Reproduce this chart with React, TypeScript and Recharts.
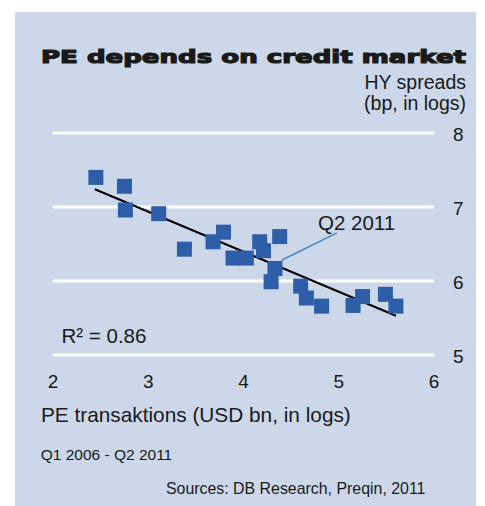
import { CartesianGrid, ReferenceLine, Scatter, ScatterChart, XAxis, YAxis } from "recharts";

// PE transactions (x) vs HY spreads (y), both in logs, Q1 2006 - Q2 2011
const peLog = [2.45, 2.75, 2.76, 3.11, 3.38, 3.68, 3.79, 3.89, 4.03, 4.17, 4.21, 4.38, 4.33, 4.29, 4.6, 4.66, 4.82, 5.15, 5.25, 5.49, 5.6];
const hyLog = [7.4, 7.28, 6.96, 6.91, 6.43, 6.53, 6.66, 6.31, 6.31, 6.53, 6.41, 6.6, 6.17, 5.99, 5.93, 5.77, 5.66, 5.67, 5.79, 5.82, 5.66];

const trendX = [2.44, 5.6];
const trendY = [7.24, 5.53];

// leader from "Q2 2011" label to its point
const leaderX = [4.4, 4.98];
const leaderY = [6.28, 6.65];

const xTicks = [2, 3, 4, 5, 6];
const yTicks = [5, 6, 7, 8];

const points = peLog.map((x, i) => ({ x, y: hyLog[i] }));

const font = "'Liberation Sans', Arial, sans-serif";
const ink = "#1a1a1a";

const SquareDot = (props: any) => {
  const { cx, cy } = props;
  if (cx == null || cy == null) return null;
  return <rect x={cx - 7.5} y={cy - 7.5} width={15} height={15} fill="#2f5ea9" />;
};

export default function App() {
  return (
    <div style={{ position: "absolute", left: 0, top: 0, width: 485, height: 506, background: "#fff", fontFamily: font }}>
      <div style={{ position: "absolute", left: 15, top: 12, width: 461, height: 494, background: "#ccd7e9" }} />
      <div style={{ position: "absolute", left: 0, top: 0 }}>
        <ScatterChart width={485} height={506} margin={{ top: 133, right: 0, bottom: 111, left: 53 }}>
          <CartesianGrid horizontal vertical={false} stroke="#ffffff" strokeWidth={3} />
          <XAxis
            type="number"
            dataKey="x"
            domain={[2, 6]}
            ticks={xTicks}
            height={40}
            axisLine={false}
            tickLine={false}
            tickSize={0}
            tickMargin={20}
            tick={{ fill: ink, fontSize: 19, fontFamily: font }}
            interval={0}
          />
          <YAxis
            type="number"
            dataKey="y"
            orientation="right"
            domain={[5, 8]}
            ticks={yTicks}
            width={51}
            axisLine={false}
            tickLine={false}
            tickSize={0}
            tickMargin={19}
            tick={{ fill: ink, fontSize: 19, fontFamily: font, dy: 1.5 }}
            interval={0}
          />
          <Scatter data={points} shape={SquareDot} isAnimationActive={false} />
          <ReferenceLine
            segment={[
              { x: trendX[0], y: trendY[0] },
              { x: trendX[1], y: trendY[1] },
            ]}
            stroke="#000"
            strokeWidth={2}
          />
          <ReferenceLine
            segment={[
              { x: leaderX[0], y: leaderY[0] },
              { x: leaderX[1], y: leaderY[1] },
            ]}
            stroke="#4a86c8"
            strokeWidth={1.5}
          />
        </ScatterChart>
      </div>
      <svg width={485} height={506} style={{ position: "absolute", left: 0, top: 0, pointerEvents: "none" }}>
        <text
          x={41}
          y={63.3}
          fontFamily="'DejaVu Sans', sans-serif"
          fontWeight="bold"
          fontSize={18.5}
          fill={ink}
          stroke={ink}
          strokeWidth={1.2}
          textLength={425}
          lengthAdjust="spacingAndGlyphs"
        >
          PE depends on credit market
        </text>
        <text x={466} y={89.3} textAnchor="end" fontFamily={font} fontSize={19.5} fill={ink}>
          HY spreads
        </text>
        <text x={466} y={109.7} textAnchor="end" fontFamily={font} fontSize={19.5} fill={ink}>
          (bp, in logs)
        </text>
        <text x={318} y={230} fontFamily={font} fontSize={20.5} fill={ink}>
          Q2 2011
        </text>
        <text x={61.5} y={343} fontFamily={font} fontSize={20.5} fill={ink}>
          R² = 0.86
        </text>
        <text x={41} y={422} fontFamily={font} fontSize={20.8} fill={ink}>
          PE transaktions (USD bn, in logs)
        </text>
        <text x={40.7} y={460} fontFamily={font} fontSize={15.5} fill={ink}>
          Q1 2006 - Q2 2011
        </text>
        <text x={166} y={493.5} fontFamily={font} fontSize={15.9} fill={ink}>
          Sources: DB Research, Preqin, 2011
        </text>
      </svg>
    </div>
  );
}
